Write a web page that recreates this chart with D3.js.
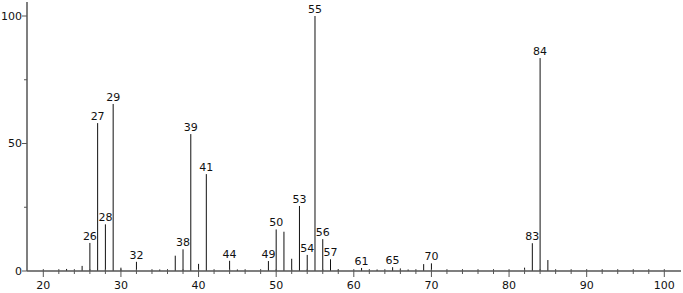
<!DOCTYPE html>
<html>
<head>
<meta charset="utf-8">
<script src="https://cdn.jsdelivr.net/npm/d3@7"></script>
<style>
  body { margin: 0; background: #fff; }
  svg { display: block; font-family: "DejaVu Sans", sans-serif; }
</style>
</head>
<body>
<svg width="683" height="293"></svg>
<script>
// m/z values and relative intensities
const masses = [23, 25, 26, 27, 28, 29, 30, 32, 35, 37, 38, 39, 40, 41, 44, 45, 49, 50, 51, 52, 53, 54, 55, 56, 57, 58, 61, 63, 65, 66, 67, 69, 70, 82, 83, 84, 85];
const intensities = [0.8, 2, 11, 58, 18.3, 65.5, 1.3, 3.6, 0.6, 6, 8.5, 53.7, 2.8, 38, 4, 0.6, 3.9, 16.3, 15.4, 4.8, 25.5, 6.3, 100, 12.5, 4.6, 0.6, 1.2, 0.6, 1.5, 1, 0.6, 2.7, 3, 1.3, 10.9, 83.5, 4.3];
const labelled = [26, 27, 28, 29, 32, 38, 39, 41, 44, 49, 50, 53, 54, 55, 56, 57, 61, 65, 70, 83, 84];
const xTicks = [20, 30, 40, 50, 60, 70, 80, 90, 100];
const yTicks = [0, 50, 100];

const data = masses.map((m, i) => ({ m: m, v: intensities[i] }));

const svg = d3.select("svg");
const axisColor = "#555";

const x = d3.scaleLinear().domain([20, 100]).range([43.3, 664.3]);
const y = d3.scaleLinear().domain([0, 100]).range([271, 16]);
const x0 = 27, x1 = 681;

// peaks
svg.append("g")
  .selectAll("line")
  .data(data)
  .enter()
  .append("line")
  .attr("x1", (d) => x(d.m))
  .attr("x2", (d) => x(d.m))
  .attr("y1", y(0))
  .attr("y2", (d) => y(d.v))
  .attr("stroke", "#111")
  .attr("stroke-width", 1);

// peak labels
svg.append("g")
  .selectAll("text")
  .data(data.filter((d) => labelled.includes(d.m)))
  .enter()
  .append("text")
  .attr("x", (d) => x(d.m))
  .attr("y", (d) => y(d.v) - 3)
  .attr("text-anchor", "middle")
  .attr("font-size", 11)
  .attr("fill", "#111")
  .text((d) => d.m);

// x axis
const gx = svg.append("g").attr("stroke", axisColor);
gx.append("line")
  .attr("x1", x0).attr("x2", x1)
  .attr("y1", y(0)).attr("y2", y(0))
  .attr("stroke-width", 1.5);
gx.selectAll(".minor")
  .data(d3.range(22, 102, 2).filter((t) => t % 10 !== 0))
  .enter()
  .append("line")
  .attr("x1", (d) => x(d)).attr("x2", (d) => x(d))
  .attr("y1", y(0) - 2).attr("y2", y(0) + 3);
gx.selectAll(".major")
  .data(xTicks)
  .enter()
  .append("line")
  .attr("x1", (d) => x(d)).attr("x2", (d) => x(d))
  .attr("y1", y(0) - 2).attr("y2", y(0) + 6);
svg.append("g")
  .selectAll("text")
  .data(xTicks)
  .enter()
  .append("text")
  .attr("x", (d) => x(d))
  .attr("y", 289)
  .attr("text-anchor", "middle")
  .attr("font-size", 11)
  .attr("fill", "#111")
  .text((d) => d);

// y axis
const gy = svg.append("g").attr("stroke", axisColor);
gy.append("line")
  .attr("x1", x0).attr("x2", x0)
  .attr("y1", 2).attr("y2", y(0))
  .attr("stroke-width", 1.5);
gy.selectAll(".major")
  .data(yTicks)
  .enter()
  .append("line")
  .attr("x1", x0 - 5).attr("x2", x0)
  .attr("y1", (d) => y(d)).attr("y2", (d) => y(d));
gy.selectAll(".minor")
  .data([25, 75])
  .enter()
  .append("line")
  .attr("x1", x0 - 3).attr("x2", x0)
  .attr("y1", (d) => y(d)).attr("y2", (d) => y(d));
svg.append("g")
  .selectAll("text")
  .data(yTicks)
  .enter()
  .append("text")
  .attr("x", x0 - 5)
  .attr("y", (d) => y(d))
  .attr("dy", "0.35em")
  .attr("text-anchor", "end")
  .attr("font-size", 11)
  .attr("fill", "#111")
  .text((d) => d);
</script>
</body>
</html>
